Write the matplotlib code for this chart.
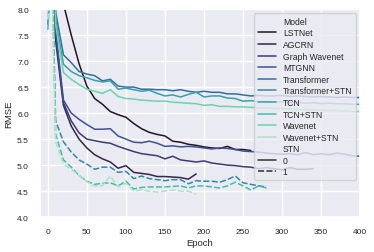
import numpy as np
import pandas as pd
import matplotlib
matplotlib.use("Agg")
import matplotlib.pyplot as plt
import seaborn as sns

models = ["LSTNet", "AGCRN", "Graph Wavenet", "MTGNN", "Transformer",
          "Transformer+STN", "TCN", "TCN+STN", "Wavenet", "Wavenet+STN"]
stn_flag = [0, 0, 0, 0, 0, 1, 0, 1, 0, 1]

# RMSE logged every 10 epochs (STN runs also have an extra point at epoch 5)
lstnet = [14.0, 10.2, 8.1, 7.5, 6.95, 6.52, 6.28, 6.17, 6.03, 5.97, 5.92, 5.8, 5.7, 5.63,
          5.59, 5.56, 5.46, 5.44, 5.4, 5.38, 5.35, 5.33, 5.32, 5.36, 5.3, 5.3, 5.28]
agcrn = [14.0, 7.4, 6.15, 5.75, 5.5, 5.33, 5.2, 5.12, 5.06, 4.94, 4.99, 4.86, 4.84, 4.82,
         4.78, 4.78, 4.77, 4.76, 4.73, 4.83]
graph_wavenet = [14.0, 7.5, 6.2, 5.85, 5.62, 5.5, 5.47, 5.44, 5.42, 5.36, 5.31, 5.26, 5.22,
                 5.2, 5.18, 5.12, 5.17, 5.1, 5.08, 5.06, 5.08, 5.04, 5.02, 5.0, 4.99, 4.97,
                 4.96, 4.93, 4.95, 4.93, 4.91, 4.95, 4.92, 4.92, 4.93]
mtgnn = [14.0, 7.6, 6.25, 6.0, 5.88, 5.78, 5.69, 5.69, 5.7, 5.56, 5.5, 5.44, 5.43, 5.46,
         5.42, 5.36, 5.37, 5.35, 5.36, 5.35, 5.33, 5.31, 5.33, 5.32, 5.3, 5.27, 5.26, 5.25,
         5.23, 5.22, 5.21, 5.22, 5.2, 5.24, 5.2, 5.22, 5.2, 5.23, 5.21, 5.18, 5.17]
transformer = [14.0, 7.95, 7.12, 6.97, 6.8, 6.75, 6.72, 6.62, 6.65, 6.52, 6.5, 6.5, 6.46,
               6.46, 6.45, 6.45, 6.43, 6.45, 6.42, 6.4, 6.42, 6.4, 6.4, 6.37, 6.37, 6.35,
               6.33, 6.34, 6.33, 6.33, 6.34, 6.32, 6.33, 6.32, 6.31, 6.32, 6.31, 6.3, 6.31,
               6.3, 6.3]
transformer_stn = [7.7, 9.0, 5.85, 5.45, 5.25, 5.1, 5.02, 4.92, 4.96, 4.96, 4.86, 4.88, 4.74,
                   4.79, 4.74, 4.72, 4.7, 4.72, 4.72, 4.64, 4.7, 4.69, 4.69, 4.67, 4.72,
                   4.79, 4.66, 4.63, 4.6, 4.58]
tcn = [14.0, 7.8, 6.94, 6.8, 6.72, 6.68, 6.63, 6.6, 6.62, 6.46, 6.48, 6.45, 6.42, 6.44,
       6.38, 6.33, 6.35, 6.31, 6.36, 6.4, 6.31, 6.33, 6.33, 6.29, 6.28, 6.23, 6.24, 6.22,
       6.23, 6.21, 6.22, 6.2, 6.21, 6.19, 6.2, 6.18, 6.19, 6.18, 6.18, 6.17, 6.17]
tcn_stn = [7.6, 8.8, 5.6, 5.1, 4.96, 4.8, 4.69, 4.63, 4.65, 4.66, 4.6, 4.69, 4.54, 4.57, 4.58,
           4.58, 4.58, 4.59, 4.6, 4.56, 4.6, 4.6, 4.58, 4.56, 4.6, 4.67, 4.6, 4.52, 4.6, 4.56]
wavenet = [14.0, 7.7, 6.78, 6.65, 6.55, 6.46, 6.42, 6.38, 6.45, 6.32, 6.28, 6.27, 6.25,
           6.24, 6.23, 6.23, 6.21, 6.2, 6.19, 6.18, 6.15, 6.16, 6.13, 6.13, 6.12, 6.12,
           6.11, 6.1, 6.1, 6.09, 6.09, 6.08, 6.07, 6.07, 6.06, 6.06, 6.05, 6.05, 6.04,
           6.03, 6.03]
wavenet_stn = [7.8, 8.6, 5.45, 5.02, 4.92, 4.8, 4.68, 4.6, 4.6, 4.79, 4.58, 4.65, 4.5, 4.52,
               4.5, 4.48, 4.5, 4.52, 4.5, 4.5, 4.44]

series = [lstnet, agcrn, graph_wavenet, mtgnn, transformer, transformer_stn,
          tcn, tcn_stn, wavenet, wavenet_stn]

rows = []
for name, flag, vals in zip(models, stn_flag, series):
    if flag:
        epochs = [0, 5] + [10 * k for k in range(1, len(vals) - 1)]
    else:
        epochs = [10 * k for k in range(len(vals))]
    for e, v in zip(epochs, vals):
        rows.append({"Model": name, "STN": flag, "Epoch": e, "RMSE": v})
df = pd.DataFrame(rows)

sns.set_theme(style="darkgrid")
plt.rcParams["font.family"] = ["Liberation Sans", "DejaVu Sans"]

fig = plt.figure(figsize=(3.74, 2.53), dpi=100)
ax = fig.add_axes([0.107, 0.138, 0.856, 0.822])
sns.lineplot(data=df, x="Epoch", y="RMSE", hue="Model", style="STN",
             hue_order=models, palette="mako", linewidth=1.1, ax=ax)
ax.set_xlim(-10, 400)
ax.set_ylim(4, 8)
ax.tick_params(labelsize=6, pad=2)
ax.set_xlabel("Epoch", fontsize=6.8, labelpad=2)
ax.set_ylabel("RMSE", fontsize=6.8, labelpad=3)
ax.legend(loc="upper right", fontsize=6.2, borderaxespad=0.5, labelspacing=0.3,
          handlelength=2.1, borderpad=0.4)

fig.savefig("out.png", dpi=100)
